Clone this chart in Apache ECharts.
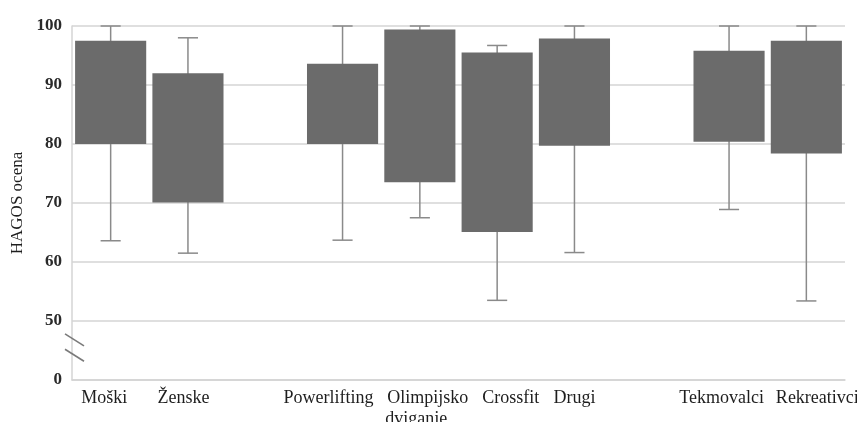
<!DOCTYPE html>
<html>
<head>
<meta charset="utf-8">
<script src="https://cdn.jsdelivr.net/npm/echarts@6/dist/echarts.min.js"></script>
<style>
  html, body { margin: 0; padding: 0; background: #ffffff; }
  #chart { width: 857px; height: 422px; }
</style>
</head>
<body>
<div id="chart"></div>
<script>
// Groups along the x axis (empty strings leave a gap between groups)
const categories = ['Moški', 'Ženske', '', 'Powerlifting', 'Olimpijsko\ndviganje', 'Crossfit', 'Drugi', '', 'Tekmovalci', 'Rekreativci'];
// HAGOS scores per group: whisker ends and box (quartile) edges
const whiskerMin = [63.6, 61.5, null, 63.7, 67.5, 53.5, 61.6, null, 68.9, 53.4];
const boxLow     = [80.0, 70.1, null, 80.0, 73.5, 65.1, 79.7, null, 80.4, 78.4];
const boxHigh    = [97.5, 92.0, null, 93.6, 99.4, 95.5, 97.9, null, 95.8, 97.5];
const whiskerMax = [100, 98.0, null, 100, 100, 96.7, 100, null, 100, 100];
// y tick labels; the lowest tick stands for 0 below the axis break
const yTickValues = [40, 50, 60, 70, 80, 90, 100];
const yTickLabels = ['0', '50', '60', '70', '80', '90', '100'];

// horizontal nudges (px) for the category labels, per text line
const labelNudge = [[-6.5], [-4.5], [0], [-14], [8, -3.5], [13.5], [0], [0], [-7.5], [11]];

const FONT = "'Liberation Serif', 'Times New Roman', serif";
const BOX_COLOR = '#6b6b6b';
const WHISKER_COLOR = '#8a8a8a';
const GRID_COLOR = '#d4d4d4';
const GRID_LEFT = 72;

const boxData = [];
categories.forEach((c, i) => {
  if (whiskerMin[i] == null) return;
  boxData.push([i, whiskerMin[i], boxLow[i], boxHigh[i], whiskerMax[i]]);
});

const rich = {};
labelNudge.forEach((lines, i) => {
  lines.forEach((s, k) => {
    rich['L' + i + '_' + k] = {
      fontFamily: FONT,
      fontSize: 18,
      color: '#1e1e1e',
      lineHeight: 21,
      padding: s > 0 ? [0, 0, 0, 2 * s] : [0, -2 * s, 0, 0]
    };
  });
});

function renderBox(params, api) {
  const idx = api.value(0);
  const pMin = api.coord([idx, api.value(1)]);
  const pLow = api.coord([idx, api.value(2)]);
  const pHigh = api.coord([idx, api.value(3)]);
  const pMax = api.coord([idx, api.value(4)]);
  const band = api.size([1, 0])[0];
  const bw = band * 0.92;
  const cw = band * 0.26;
  const x = pLow[0];
  const wStyle = { stroke: WHISKER_COLOR, lineWidth: 1.5 };
  return {
    type: 'group',
    children: [
      { type: 'line', shape: { x1: x, y1: pMin[1], x2: x, y2: pMax[1] }, style: wStyle },
      { type: 'line', shape: { x1: x - cw / 2, y1: pMin[1], x2: x + cw / 2, y2: pMin[1] }, style: wStyle },
      { type: 'line', shape: { x1: x - cw / 2, y1: pMax[1], x2: x + cw / 2, y2: pMax[1] }, style: wStyle },
      { type: 'rect', shape: { x: x - bw / 2, y: pHigh[1], width: bw, height: pLow[1] - pHigh[1] }, style: { fill: BOX_COLOR } }
    ]
  };
}

const chart = echarts.init(document.getElementById('chart'), null, { renderer: 'canvas' });
chart.setOption({
  animation: false,
  backgroundColor: '#ffffff',
  grid: { left: GRID_LEFT, right: 12, top: 26, bottom: 42, outerBoundsMode: 'none', containLabel: false },
  xAxis: {
    type: 'category',
    data: categories,
    axisLine: { show: true, lineStyle: { color: GRID_COLOR, width: 1.5 } },
    axisTick: { show: false },
    axisLabel: {
      interval: 0,
      margin: 8,
      fontFamily: FONT,
      fontSize: 18,
      color: '#1e1e1e',
      formatter: (value, index) =>
        value.split('\n').map((line, k) => '{L' + index + '_' + k + '|' + line + '}').join('\n'),
      rich: rich
    }
  },
  yAxis: {
    type: 'value',
    min: 40,
    max: 100,
    interval: 10,
    name: 'HAGOS ocena',
    nameLocation: 'middle',
    nameGap: 46,
    nameTextStyle: { fontFamily: FONT, fontSize: 17, color: '#1e1e1e' },
    axisLine: { show: true, lineStyle: { color: GRID_COLOR, width: 1.5 } },
    axisTick: { show: false },
    splitLine: { show: true, lineStyle: { color: GRID_COLOR, width: 1.5 } },
    axisLabel: {
      margin: 10,
      fontFamily: FONT,
      fontSize: 17,
      fontWeight: 'bold',
      color: '#2a2a2a',
      formatter: v => {
        const k = yTickValues.indexOf(v);
        return k >= 0 ? yTickLabels[k] : '';
      }
    }
  },
  series: [{
    type: 'custom',
    renderItem: renderBox,
    encode: { x: 0, y: [1, 2, 3, 4] },
    data: boxData
  }]
});

// axis-break marks on the y axis between 0 and 50
function breakMark(v) {
  const y = chart.convertToPixel({ yAxisIndex: 0 }, v);
  return {
    type: 'line',
    shape: { x1: GRID_LEFT - 7, y1: y - 6, x2: GRID_LEFT + 12, y2: y + 6 },
    style: { stroke: '#7a7a7a', lineWidth: 1.6 },
    z: 100
  };
}
chart.setOption({ graphic: [breakMark(46.8), breakMark(44.2)] });
</script>
</body>
</html>
